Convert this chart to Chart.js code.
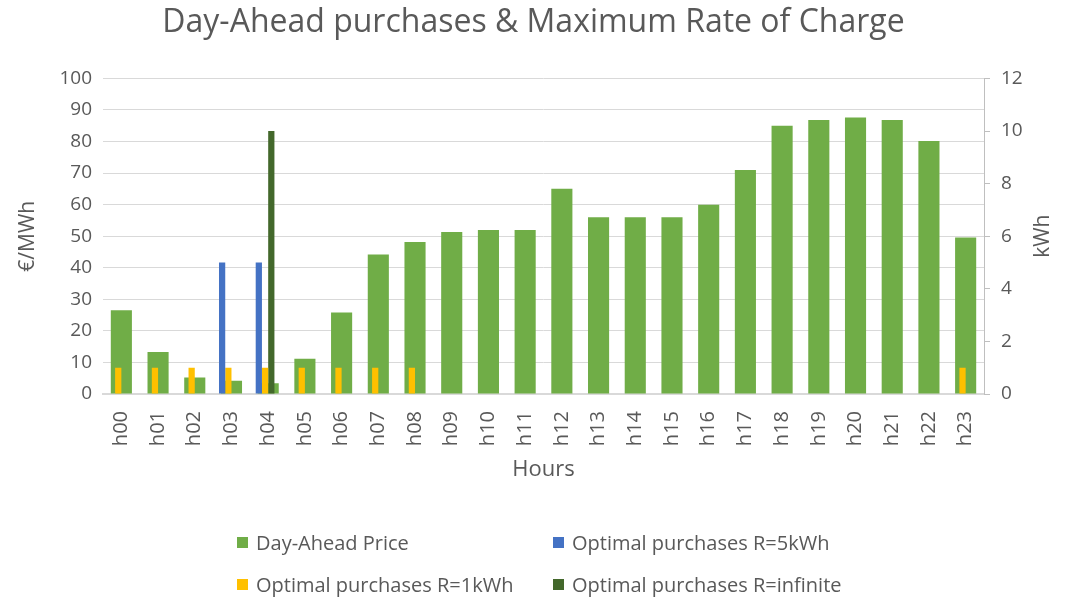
<!DOCTYPE html>
<html>
<head>
<meta charset="utf-8">
<script src="https://cdn.jsdelivr.net/npm/chart.js@4.4.1/dist/chart.umd.min.js"></script>
<style>
    body { margin: 0; background: #fff; font-family: "Open Sans", sans-serif; }
    #wrap { position: relative; width: 1067px; height: 601px; }
    #legend { position: absolute; left: 237px; top: 528px; display: grid;
              grid-template-columns: 316px 330px; row-gap: 14px; color: #595959; font-size: 20px; }
    #legend .item { display: flex; align-items: center; height: 28px; white-space: nowrap; }
    #legend .box { width: 11px; height: 11px; margin-right: 8px; }
</style>
</head>
<body>
<div id="wrap">
    <canvas id="chart" width="1067" height="601"></canvas>
    <div id="legend"></div>
</div>
<script>
var hours = ['h00', 'h01', 'h02', 'h03', 'h04', 'h05', 'h06', 'h07', 'h08', 'h09', 'h10', 'h11',
             'h12', 'h13', 'h14', 'h15', 'h16', 'h17', 'h18', 'h19', 'h20', 'h21', 'h22', 'h23'];
var dayAheadPrice = [26.5, 13.3, 5.2, 4.2, 3.4, 11.2, 25.8, 44.2, 48.2, 51.3, 52, 52,
                     65, 56, 56, 56, 60, 71, 85, 86.8, 87.6, 86.8, 80.2, 49.6];
var purchasesR5 = [0, 0, 0, 5, 5, 0, 0, 0, 0, 0, 0, 0, 0, 0, 0, 0, 0, 0, 0, 0, 0, 0, 0, 0];
var purchasesR1 = [1, 1, 1, 1, 1, 1, 1, 1, 1, 0, 0, 0, 0, 0, 0, 0, 0, 0, 0, 0, 0, 0, 0, 1];
var purchasesRinf = [0, 0, 0, 0, 10, 0, 0, 0, 0, 0, 0, 0, 0, 0, 0, 0, 0, 0, 0, 0, 0, 0, 0, 0];
var emptySlot = hours.map(function () { return null; });

var textColor = '#595959';
var fontName = '"Open Sans", sans-serif';

var ctx = document.getElementById('chart').getContext('2d');

var purchaseBar = { yAxisID: 'y1', grouped: true, categoryPercentage: 0.68, barPercentage: 1, order: 0 };

// right axis title reads bottom-to-top like the left one
var rightTitle = {
    id: 'rightTitle',
    afterDraw: function (c) {
        var g = c.ctx;
        g.save();
        g.translate(1043, c.chartArea.top + (c.chartArea.bottom - c.chartArea.top) / 2);
        g.rotate(-Math.PI / 2);
        g.fillStyle = textColor;
        g.font = '21px ' + fontName;
        g.textAlign = 'center';
        g.textBaseline = 'middle';
        g.fillText('kWh', 0, 0);
        g.restore();
    }
};

var chart = new Chart(ctx, {
    type: 'bar',
    data: {
        labels: hours,
        datasets: [{
            label: 'Day-Ahead Price',
            data: dayAheadPrice,
            backgroundColor: '#70AD47',
            yAxisID: 'y',
            grouped: false,
            categoryPercentage: 1,
            barPercentage: 0.575,
            order: 1
        }, Object.assign({
            label: 'Optimal purchases R=5kWh',
            data: purchasesR5,
            backgroundColor: '#4472C4'
        }, purchaseBar), Object.assign({
            label: 'Optimal purchases R=1kWh',
            data: purchasesR1,
            backgroundColor: '#FFC000'
        }, purchaseBar), Object.assign({
            label: 'Optimal purchases R=infinite',
            data: purchasesRinf,
            backgroundColor: '#43682B'
        }, purchaseBar), Object.assign({
            label: '',
            data: emptySlot,
            backgroundColor: 'rgba(0,0,0,0)'
        }, purchaseBar)]
    },
    plugins: [rightTitle],
    options: {
        responsive: false,
        animation: false,
        layout: { padding: { left: 0, right: 0, top: 0, bottom: 110 } },
        plugins: {
            legend: { display: false },
            tooltip: { enabled: false },
            title: {
                display: true,
                text: 'Day-Ahead purchases & Maximum Rate of Charge',
                color: textColor,
                font: { family: fontName, size: 32, weight: 'normal' },
                padding: { top: 4, bottom: 36 }
            }
        },
        scales: {
            x: {
                offset: true,
                grid: { display: false },
                border: { display: true, color: '#d9d9d9', width: 2 },
                ticks: {
                    color: textColor, font: { family: fontName, size: 20 },
                    minRotation: 90, maxRotation: 90, padding: 9, autoSkip: false
                },
                title: {
                    display: true, text: 'Hours', color: textColor,
                    font: { family: fontName, size: 22 }, padding: { top: 0, bottom: 8 }
                },
                afterFit: function (scale) { scale.height = 97; }
            },
            y: {
                position: 'left',
                min: 0, max: 100,
                ticks: { stepSize: 10, color: textColor, font: { family: fontName, size: 19 }, padding: 11 },
                grid: { color: '#d9d9d9', drawTicks: false },
                border: { display: false },
                title: {
                    display: true, text: '€/MWh', color: textColor,
                    font: { family: fontName, size: 21 }, padding: { top: 15, bottom: 0 }
                },
                afterFit: function (scale) { scale.width = 103; }
            },
            y1: {
                position: 'right',
                min: 0, max: 12,
                ticks: { stepSize: 2, color: textColor, font: { family: fontName, size: 19 }, padding: 11 },
                grid: { drawOnChartArea: false, drawTicks: true, tickLength: 6, color: '#bfbfbf' },
                border: { display: true, color: '#bfbfbf', width: 1 },
                afterFit: function (scale) { scale.width = 83; }
            }
        }
    }
});

// legend laid out in two columns like the original
var legendBox = document.getElementById('legend');
chart.data.datasets.forEach(function (ds) {
    if (!ds.label) return;
    var item = document.createElement('div');
    item.className = 'item';
    item.innerHTML = '<span class="box" style="background:' + ds.backgroundColor + '"></span>' + ds.label;
    legendBox.appendChild(item);
});
</script>
</body>
</html>
